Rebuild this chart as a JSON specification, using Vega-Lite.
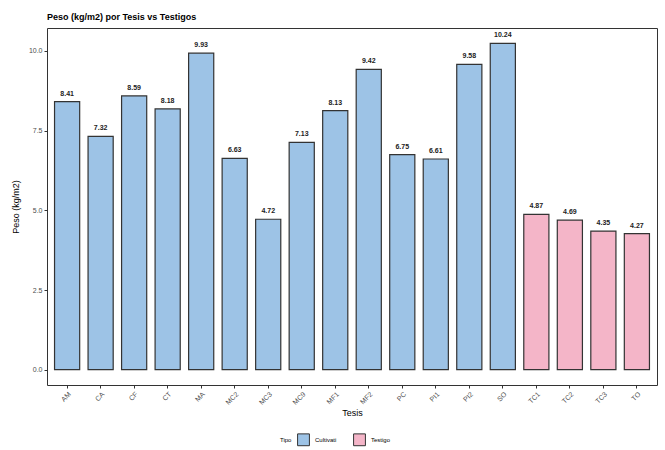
{
  "$schema": "https://vega.github.io/schema/vega-lite/v6.json",
  "autosize": {"type": "none"},
  "padding": {"left": 47, "top": 28, "right": 8, "bottom": 65},
  "width": 610,
  "height": 357,
  "title": {"text": "Peso (kg/m2) por Tesis vs Testigos", "anchor": "start", "frame": "group", "fontSize": 9, "font": "Liberation Sans", "fontWeight": "bold", "color": "#000", "offset": 6},
  "config": {
    "font": "Liberation Sans",
    "view": {"stroke": "#333", "strokeWidth": 1},
    "axis": {"grid": false, "domain": false, "tickColor": "#333", "tickSize": 3, "labelColor": "#4d4d4d", "labelFontSize": 7, "titleFontSize": 9, "titleFontWeight": "normal", "titleColor": "#000"}
  },
  "data": {"values": [
    {"Tesis": "AM", "Peso": 8.41, "Tipo": "Cultivati"},
    {"Tesis": "CA", "Peso": 7.32, "Tipo": "Cultivati"},
    {"Tesis": "CF", "Peso": 8.59, "Tipo": "Cultivati"},
    {"Tesis": "CT", "Peso": 8.18, "Tipo": "Cultivati"},
    {"Tesis": "MA", "Peso": 9.93, "Tipo": "Cultivati"},
    {"Tesis": "MC2", "Peso": 6.63, "Tipo": "Cultivati"},
    {"Tesis": "MC3", "Peso": 4.72, "Tipo": "Cultivati"},
    {"Tesis": "MC9", "Peso": 7.13, "Tipo": "Cultivati"},
    {"Tesis": "MF1", "Peso": 8.13, "Tipo": "Cultivati"},
    {"Tesis": "MF2", "Peso": 9.42, "Tipo": "Cultivati"},
    {"Tesis": "PC", "Peso": 6.75, "Tipo": "Cultivati"},
    {"Tesis": "PI1", "Peso": 6.61, "Tipo": "Cultivati"},
    {"Tesis": "PI2", "Peso": 9.58, "Tipo": "Cultivati"},
    {"Tesis": "SO", "Peso": 10.24, "Tipo": "Cultivati"},
    {"Tesis": "TC1", "Peso": 4.87, "Tipo": "Testigo"},
    {"Tesis": "TC2", "Peso": 4.69, "Tipo": "Testigo"},
    {"Tesis": "TC3", "Peso": 4.35, "Tipo": "Testigo"},
    {"Tesis": "TO", "Peso": 4.27, "Tipo": "Testigo"}
  ]},
  "encoding": {
    "x": {"field": "Tesis", "type": "nominal", "sort": null,
      "scale": {"paddingInner": 0.25, "paddingOuter": 0.225},
      "axis": {"labelAngle": -45, "title": "Tesis", "titleFontSize": 9, "titlePadding": 3}},
    "y": {"field": "Peso", "type": "quantitative",
      "scale": {"domain": [-0.48, 10.72], "nice": false, "zero": false},
      "axis": {"values": [0, 2.5, 5, 7.5, 10], "format": ".1f", "title": "Peso (kg/m2)", "titlePadding": 8}}
  },
  "layer": [
    {"mark": {"type": "bar", "stroke": "#333", "strokeWidth": 1.2},
     "encoding": {
       "y2": {"datum": 0},
       "fill": {"field": "Tipo", "type": "nominal",
         "scale": {"domain": ["Cultivati", "Testigo"], "range": ["#9DC3E6", "#F4B5C8"]},
         "legend": {"orient": "none", "legendX": 233, "legendY": 405, "direction": "horizontal", "title": "Tipo", "titleOrient": "left", "titleFontSize": 6, "titleFontWeight": "normal", "labelFontSize": 6, "symbolType": "square", "symbolSize": 140, "symbolStrokeColor": "#333", "symbolStrokeWidth": 1, "titleAnchor": "middle", "columnPadding": 14, "labelOffset": 5}
       }}},
    {"mark": {"type": "text", "dy": -8, "fontSize": 7, "fontWeight": "bold", "color": "#222"},
     "encoding": {"text": {"field": "Peso", "type": "quantitative", "format": ".2f"}}}
  ]
}
